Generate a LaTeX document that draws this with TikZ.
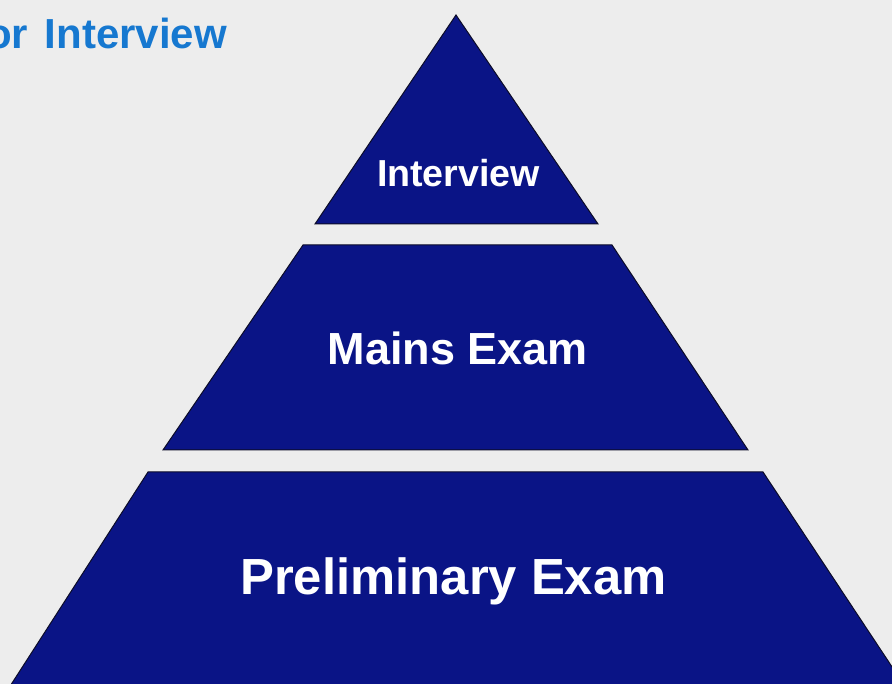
\documentclass[tikz,border=0pt]{standalone}
\usepackage{fontspec}
\setmainfont{Liberation Sans}
\definecolor{bgc}{RGB}{237,237,237}
\definecolor{navy}{RGB}{10,20,134}
\definecolor{edgec}{RGB}{12,12,40}
\definecolor{titleblue}{RGB}{22,120,208}
\tikzset{
  tier/.style={fill=navy, draw=edgec, line width=1pt, line join=miter},
  tierlabel/.style={text=white, font=\bfseries, anchor=base, inner sep=0pt},
}
\begin{document}
\begin{tikzpicture}[x=1pt,y=-1pt]
\useasboundingbox (0,0) rectangle (892,684);
\fill[bgc] (0,0) rectangle (892,684);
\clip (0,0) rectangle (892,684);
% tiers
\path[tier] (456,15) -- (598,224) -- (315,224) -- cycle;
\path[tier] (303,245) -- (612,245) -- (748,450) -- (163,450) -- cycle;
\path[tier] (148,472) -- (763,472) -- (910,694) -- (5,694) -- cycle;
% labels
\node[tierlabel, font=\bfseries\fontsize{37.6}{40}\selectfont] (interview) at (458.5,187) {Interview};
\node[tierlabel, font=\bfseries\fontsize{45}{48}\selectfont] (mains) at (458,365) {Mains Exam};
\node[tierlabel, font=\bfseries\fontsize{50.8}{54}\selectfont] (prelim) at (453.5,594) {Preliminary Exam};
% title fragment
\node[anchor=base east, inner sep=0pt, text=titleblue, font=\bfseries\fontsize{42}{45}\selectfont] (title) at (227,49) {or\hspace{5pt} Interview};
\end{tikzpicture}
\end{document}
